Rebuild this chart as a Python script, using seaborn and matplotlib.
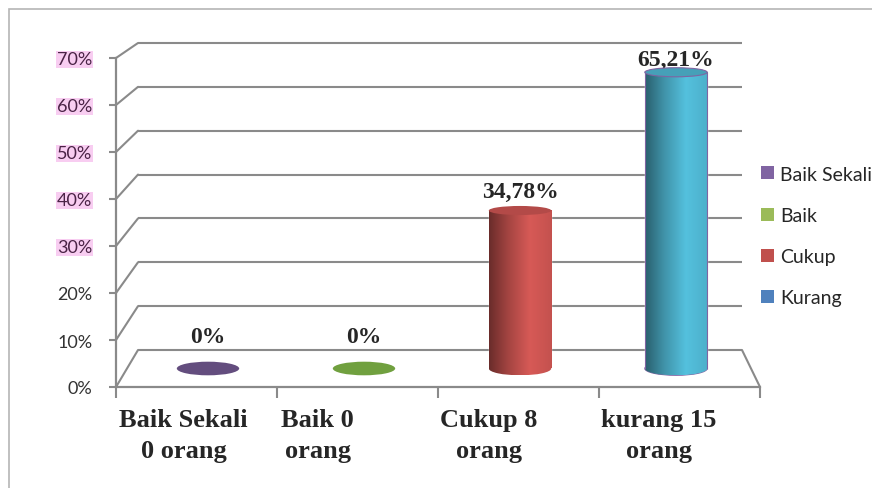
import numpy as np
import matplotlib
matplotlib.use('Agg')
import matplotlib.pyplot as plt
import seaborn as sns
from matplotlib.patches import Ellipse, Patch, Rectangle, ConnectionPatch
from matplotlib.colors import to_rgb

# data
categories = ['Baik Sekali', 'Baik', 'Cukup', 'Kurang']
values = [0, 0, 34.78, 65.21]
value_labels = ['0%', '0%', '34,78%', '65,21%']
tick_labels = ['Baik Sekali\n0 orang', 'Baik 0\norang', 'Cukup 8\norang', 'kurang 15\norang']
y_ticks = [0, 10, 20, 30, 40, 50, 60, 70]

# styles
bar_colors = ['#634d7e', '#70a03f', '#c0504d', '#4bacc6']
legend_colors = ['#8064a2', '#9bbb59', '#c0504d', '#4f81bd']
side_edges = [None, None, None, '#8064a2']
label_dy = [26, 26, 14, 7]          # pixels above bar top
tick_dx = [-13, -40, -30, -21]      # pixels, category label shift
gray = '#8a8a8a'
bar_w = 0.4
e_bot, e_top = 3.0, 2.0

sns.set_style('white')
plt.rcParams['font.family'] = ['Lato', 'DejaVu Sans']

W, H = 872, 489
fig = plt.figure(figsize=(8.72, 4.89), dpi=100)


def px_rect(left, right, bottom, top):
    return [left / W, 1 - bottom / H, (right - left) / W, (bottom - top) / H]


# bar plane: 0 at 369.5px, 70 at 51.5px, extended a little below the floor
y_lo = -4
scale = (369.5 - 51.5) / 70
ax_b = fig.add_axes(px_rect(138, 742, 351, 44))   # back wall
ax_f = fig.add_axes(px_rect(116, 760, 388, 59))   # front axis
ax_m = fig.add_axes(px_rect(130, 754, 369.5 - y_lo * scale, 51.5))  # bars
for a in (ax_b, ax_f, ax_m):
    a.set_facecolor('none')

# back wall grid
ax_b.hlines(y_ticks, -0.5, 3.5, color=gray, lw=1.5, clip_on=False)
ax_b.set_xlim(-0.5, 3.5)
ax_b.set_ylim(0, 70)
ax_b.axis('off')

# front axis
ax_f.set_xlim(-0.5, 3.5)
ax_f.set_ylim(0, 70)
for s in ['top', 'right']:
    ax_f.spines[s].set_visible(False)
for s in ['left', 'bottom']:
    ax_f.spines[s].set_color(gray)
    ax_f.spines[s].set_linewidth(1.6)
ax_f.set_yticks(y_ticks)
ylabs = ax_f.set_yticklabels([f'{v}%' for v in y_ticks], fontsize=13, color='#333333')
for lab, v in zip(ylabs, y_ticks):
    if v >= 30:
        lab.set_bbox(dict(facecolor='#f8cdf1', edgecolor='none', pad=0.5))
        lab.set_color('#4a2346')
ax_f.tick_params(axis='y', length=5, width=1.5, color=gray, pad=12, left=True)
ax_f.set_xticks(range(len(categories)))
ax_f.set_xticklabels([])
ax_f.set_xticks([-0.5, 0.5, 1.5, 2.5, 3.5], minor=True)
ax_f.tick_params(axis='x', which='major', length=0)
ax_f.tick_params(axis='x', which='minor', length=8, width=1.5, color=gray, bottom=True)
for i, lab in enumerate(tick_labels):
    ax_f.annotate(lab, xy=(i, 0), xytext=(tick_dx[i], -21), textcoords='offset pixels',
                  ha='center', va='top', fontsize=19, fontweight='bold',
                  family='Liberation Serif', linespacing=1.45, annotation_clip=False)

# perspective connectors
for v in y_ticks:
    ax_f.add_artist(ConnectionPatch(xyA=(-0.5, v), coordsA=ax_f.transData,
                                    xyB=(-0.5, v), coordsB=ax_b.transData,
                                    color=gray, lw=1.5))
ax_f.add_artist(ConnectionPatch(xyA=(3.5, 0), coordsA=ax_f.transData,
                                xyB=(3.5, 0), coordsB=ax_b.transData,
                                color=gray, lw=1.5))

# bars
sns.barplot(x=categories, y=values, hue=categories, palette=bar_colors,
            width=bar_w, saturation=1, legend=False, ax=ax_m)

t = np.linspace(0, 1, 256)
shade = np.interp(t, [0, 0.3, 0.65, 1], [0.55, 0.85, 1.12, 1.02])
for i, (p, v) in enumerate(zip(ax_m.patches, values)):
    base = np.array(to_rgb(bar_colors[i]))
    x0 = i - bar_w / 2
    if v == 0:
        p.set_visible(False)
        ax_m.add_patch(Ellipse((i, 0), bar_w, e_bot, facecolor=base, edgecolor='none', zorder=3))
    else:
        grad = np.clip(base[None, :] * shade[:, None], 0, 1)[None]
        ell = Ellipse((i, 0), bar_w, e_bot, facecolor='none', edgecolor='none')
        ax_m.add_patch(ell)
        im1 = ax_m.imshow(grad, extent=[x0, x0 + bar_w, 0, v], aspect='auto', zorder=3)
        im1.set_clip_path(p)
        im2 = ax_m.imshow(grad, extent=[x0, x0 + bar_w, -e_bot / 2, e_bot / 2], aspect='auto', zorder=3)
        im2.set_clip_path(ell)
        edge = side_edges[i] if side_edges[i] else 'none'
        if side_edges[i]:
            ax_m.vlines([x0, x0 + bar_w], 0, v, color=edge, lw=0.8, zorder=4)
            ax_m.add_patch(Ellipse((i, 0), bar_w, e_bot, facecolor='none', edgecolor=edge,
                                   lw=0.8, zorder=2.9))
        ax_m.add_patch(Ellipse((i, v), bar_w, e_top, facecolor=np.clip(base * 0.93, 0, 1),
                               edgecolor=edge, lw=0.8, zorder=5, clip_on=False))
    ax_m.annotate(value_labels[i], xy=(i, v), xytext=(0, label_dy[i]), textcoords='offset pixels',
                  ha='center', va='baseline', fontsize=17, fontweight='bold',
                  family='Liberation Serif', annotation_clip=False)

ax_m.set_xlim(-0.5, 3.5)
ax_m.set_ylim(y_lo, 70)
ax_m.axis('off')

# legend
handles = [Patch(facecolor=c, edgecolor='none') for c in legend_colors]
fig.legend(handles, categories, loc='center left', bbox_to_anchor=(761 / W, 1 - 237 / H),
           frameon=False, fontsize=14, handlelength=0.65, handleheight=0.65,
           handletextpad=0.35, labelspacing=1.25, borderpad=0, borderaxespad=0,
           labelcolor='#262626')

# outer frame
fig.add_artist(Rectangle((8.5 / W, -0.1), 1.2, 1.1 - 10 / H, transform=fig.transFigure,
                         facecolor='none', edgecolor='#b5b5b5', lw=1.2, clip_on=False))

fig.savefig('out.png', dpi=100)
